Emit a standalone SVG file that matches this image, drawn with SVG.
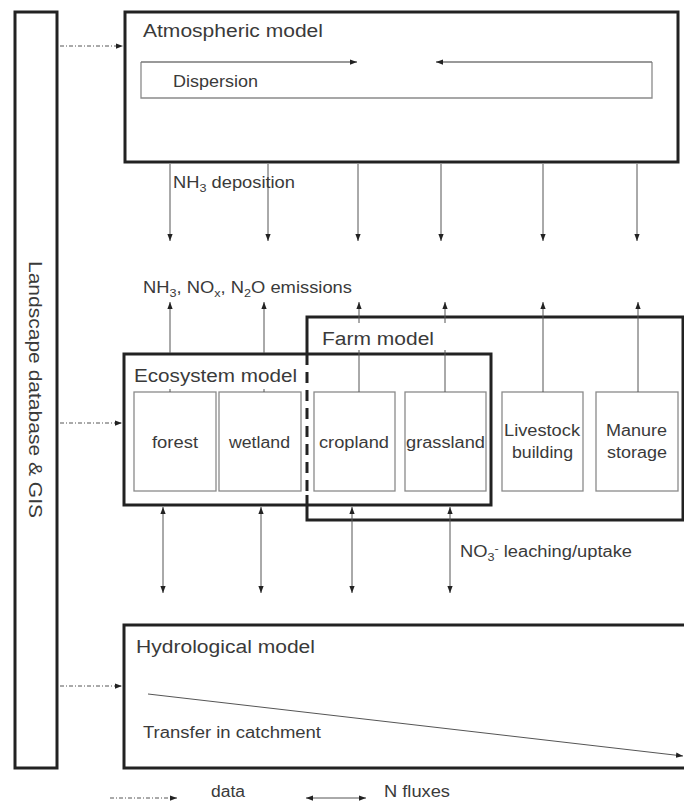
<svg xmlns="http://www.w3.org/2000/svg" width="684" height="803" viewBox="0 0 684 803">
<defs>
<marker id="ah" viewBox="0 0 8 6" refX="8" refY="3" markerWidth="7" markerHeight="6" markerUnits="userSpaceOnUse" orient="auto-start-reverse">
<path d="M0,0 L8,3 L0,6 z" fill="#222"/>
</marker>
<style>
text{font-family:"Liberation Sans",Arial,sans-serif;fill:#3a3a3a;font-size:16px}
.t{font-size:18px}
.thick{fill:none;stroke:#222;stroke-width:3}
.inner{fill:#fff;stroke:#8a8a8a;stroke-width:1.3}
.c{stroke:#555;stroke-width:1;fill:none}
.data{stroke:#555;stroke-width:1;fill:none;stroke-dasharray:4 2 1 2}
</style>
</defs>
<rect width="684" height="803" fill="#fff"/>

<g id="landscape">
<rect class="thick" x="15" y="12" width="42" height="756"/>
<text class="t" transform="translate(29,261) rotate(90)" textLength="257" lengthAdjust="spacingAndGlyphs">Landscape database &amp; GIS</text>
</g>

<g id="atmospheric">
<rect class="thick" x="125" y="12" width="553" height="150"/>
<text class="t" x="143" y="37" textLength="180" lengthAdjust="spacingAndGlyphs">Atmospheric model</text>
</g>

<g id="dispersion">
<path d="M141,62 L141,98 L652,98 L652,62" fill="none" stroke="#8a8a8a" stroke-width="1.3"/>
<text x="173" y="87" textLength="85" lengthAdjust="spacingAndGlyphs">Dispersion</text>
</g>

<g id="farm">
<path class="thick" d="M307,354 L307,317 L683,317 L683,520 L307,520 L307,495"/>
<line x1="307" y1="354" x2="307" y2="495" stroke="#222" stroke-width="3" stroke-dasharray="11 7"/>
<text class="t" x="322" y="345" textLength="112" lengthAdjust="spacingAndGlyphs">Farm model</text>
</g>

<g id="ecosystem">
<rect class="thick" x="124" y="354" width="367" height="151"/>
<text class="t" x="134" y="382" textLength="163" lengthAdjust="spacingAndGlyphs">Ecosystem model</text>
</g>

<g id="forest"><rect class="inner" x="134" y="392" width="82" height="99"/><text x="152" y="448" textLength="46" lengthAdjust="spacingAndGlyphs">forest</text></g>
<g id="wetland"><rect class="inner" x="219" y="392" width="82" height="99"/><text x="229" y="448" textLength="61" lengthAdjust="spacingAndGlyphs">wetland</text></g>
<g id="cropland"><rect class="inner" x="314" y="392" width="81" height="99"/><text x="319" y="448" textLength="70" lengthAdjust="spacingAndGlyphs">cropland</text></g>
<g id="grassland"><rect class="inner" x="405" y="392" width="81" height="99"/><text x="406" y="448" textLength="79" lengthAdjust="spacingAndGlyphs">grassland</text></g>
<g id="livestock"><rect class="inner" x="502" y="392" width="81" height="99"/><text x="504" y="436" textLength="76" lengthAdjust="spacingAndGlyphs">Livestock</text><text x="512" y="458" textLength="61" lengthAdjust="spacingAndGlyphs">building</text></g>
<g id="manure"><rect class="inner" x="596" y="392" width="82" height="99"/><text x="606" y="436" textLength="61" lengthAdjust="spacingAndGlyphs">Manure</text><text x="607" y="458" textLength="60" lengthAdjust="spacingAndGlyphs">storage</text></g>

<g id="hydrological">
<path class="thick" d="M690,625 L124,625 L124,768 L690,768"/>
<text class="t" x="136" y="653" textLength="179" lengthAdjust="spacingAndGlyphs">Hydrological model</text>
<text x="143" y="738" textLength="178" lengthAdjust="spacingAndGlyphs">Transfer in catchment</text>
</g>

<g id="connectors">
<!-- dispersion arrows -->
<line x1="141" y1="62" x2="357" y2="62" stroke="#777" stroke-width="1.3" marker-end="url(#ah)"/>
<line x1="652" y1="62" x2="436" y2="62" stroke="#777" stroke-width="1.3" marker-end="url(#ah)"/>
<!-- data arrows -->
<line class="data" x1="60" y1="46" x2="123" y2="46" marker-end="url(#ah)"/>
<line class="data" x1="60" y1="423" x2="122" y2="423" marker-end="url(#ah)"/>
<line class="data" x1="60" y1="686" x2="122" y2="686" marker-end="url(#ah)"/>
<!-- deposition down arrows -->
<line class="c" x1="170" y1="164" x2="170" y2="241" marker-end="url(#ah)"/>
<line class="c" x1="268" y1="164" x2="268" y2="241" marker-end="url(#ah)"/>
<line class="c" x1="358" y1="164" x2="358" y2="241" marker-end="url(#ah)"/>
<line class="c" x1="441" y1="164" x2="441" y2="241" marker-end="url(#ah)"/>
<line class="c" x1="543" y1="164" x2="543" y2="241" marker-end="url(#ah)"/>
<line class="c" x1="637" y1="164" x2="637" y2="241" marker-end="url(#ah)"/>
<!-- emission up arrows -->
<line class="c" x1="170" y1="353" x2="170" y2="302" marker-end="url(#ah)"/>
<line class="c" x1="170" y1="389" x2="170" y2="392"/>
<line class="c" x1="264" y1="353" x2="264" y2="302" marker-end="url(#ah)"/>
<line class="c" x1="264" y1="389" x2="264" y2="392"/>
<line class="c" x1="359" y1="392" x2="359" y2="350"/>
<line class="c" x1="359" y1="323" x2="359" y2="302" marker-end="url(#ah)"/>
<line class="c" x1="445" y1="392" x2="445" y2="350"/>
<line class="c" x1="445" y1="323" x2="445" y2="302" marker-end="url(#ah)"/>
<line class="c" x1="543" y1="392" x2="543" y2="302" marker-end="url(#ah)"/>
<line class="c" x1="638" y1="392" x2="638" y2="302" marker-end="url(#ah)"/>
<!-- leaching double arrows -->
<line class="c" x1="163" y1="507" x2="163" y2="593" marker-start="url(#ah)" marker-end="url(#ah)"/>
<line class="c" x1="261" y1="507" x2="261" y2="593" marker-start="url(#ah)" marker-end="url(#ah)"/>
<line class="c" x1="352" y1="507" x2="352" y2="593" marker-start="url(#ah)" marker-end="url(#ah)"/>
<line class="c" x1="450" y1="507" x2="450" y2="593" marker-start="url(#ah)" marker-end="url(#ah)"/>
<!-- catchment transfer -->
<line class="c" x1="148" y1="694" x2="683" y2="756" marker-end="url(#ah)"/>
<!-- legend -->
<line class="data" x1="110" y1="798" x2="177" y2="798" marker-end="url(#ah)"/>
<line class="c" x1="306" y1="798" x2="366" y2="798" marker-start="url(#ah)" marker-end="url(#ah)"/>
</g>

<g id="labels">
<text x="173" y="188" textLength="122" lengthAdjust="spacingAndGlyphs">NH<tspan font-size="11" dy="4">3</tspan><tspan dy="-4"> deposition</tspan></text>
<text x="143" y="293" textLength="209" lengthAdjust="spacingAndGlyphs">NH<tspan font-size="11" dy="4">3</tspan><tspan dy="-4">, NO</tspan><tspan font-size="11" dy="4">x</tspan><tspan dy="-4">, N</tspan><tspan font-size="11" dy="4">2</tspan><tspan dy="-4">O emissions</tspan></text>
<text x="460" y="557" textLength="172" lengthAdjust="spacingAndGlyphs">NO<tspan font-size="11" dy="4">3</tspan><tspan font-size="11" dy="-9">-</tspan><tspan dy="5"> leaching/uptake</tspan></text>
<text x="211" y="797" textLength="34" lengthAdjust="spacingAndGlyphs">data</text>
<text x="384" y="797" textLength="66" lengthAdjust="spacingAndGlyphs">N fluxes</text>
</g>
</svg>
